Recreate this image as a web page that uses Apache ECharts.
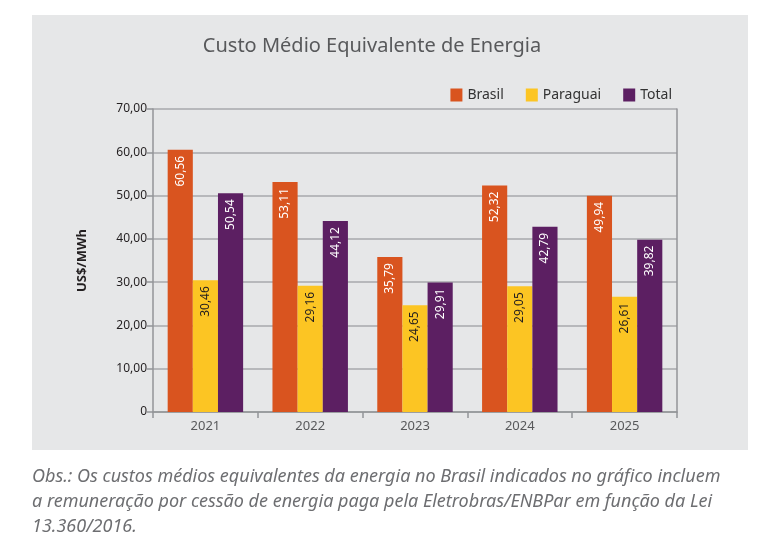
<!DOCTYPE html>
<html>
<head>
<meta charset="utf-8">
<script src="https://cdn.jsdelivr.net/npm/echarts@6/dist/echarts.min.js"></script>
<style>
  html, body { margin: 0; padding: 0; background: #fff; }
  #chart { width: 770px; height: 549px; }
</style>
</head>
<body>
<div id="chart"></div>
<script>
const anos = ['2021', '2022', '2023', '2024', '2025'];
const brasil = [60.56, 53.11, 35.79, 52.32, 49.94];
const paraguai = [30.46, 29.16, 24.65, 29.05, 26.61];
const total = [50.54, 44.12, 29.91, 42.79, 39.82];

const fonte = '"Noto Sans", sans-serif';
const fmt = v => v.toFixed(2).replace('.', ',');

// rótulo vertical dentro da barra, junto ao topo
const rotulo = (cor) => ({
  show: true,
  position: 'insideTop',
  rotate: 90,
  align: 'right',
  verticalAlign: 'middle',
  distance: 6,
  color: cor,
  fontFamily: fonte,
  fontSize: 12,
  formatter: p => fmt(p.value)
});

const chart = echarts.init(document.getElementById('chart'));

chart.setOption({
  animation: false,
  textStyle: { fontFamily: fonte },
  graphic: [
    {
      type: 'rect',
      z: -10,
      shape: { x: 32, y: 15, width: 716, height: 435 },
      style: { fill: '#e6e7e8' }
    },
    {
      type: 'text',
      left: 32,
      top: 464,
      style: {
        text: 'Obs.: Os custos médios equivalentes da energia no Brasil indicados no gráfico incluem\n' +
              'a remuneração por cessão de energia paga pela Eletrobras/ENBPar em função da Lei\n' +
              '13.360/2016.',
        font: 'italic 18px "Noto Sans", sans-serif',
        fill: '#6d6e71',
        lineHeight: 25
      }
    }
  ],
  title: {
    text: 'Custo Médio Equivalente de Energia',
    left: 367,
    textAlign: 'center',
    top: 31,
    textStyle: { fontSize: 20, fontWeight: 'normal', color: '#58595b', fontFamily: fonte }
  },
  legend: {
    right: 93,
    top: 83,
    itemWidth: 12,
    itemHeight: 13,
    itemGap: 22,
    icon: 'rect',
    textStyle: { fontSize: 14, color: '#333', fontFamily: fonte }
  },
  grid: { left: 153, right: 93, top: 109, bottom: 137 },
  xAxis: {
    type: 'category',
    data: anos,
    axisLine: { lineStyle: { color: '#939598', width: 1.5 } },
    axisTick: { show: true, length: 6, lineStyle: { color: '#939598', width: 1.5 } },
    axisLabel: { color: '#58595b', fontSize: 13, margin: 8 }
  },
  yAxis: [
    {
      type: 'value',
      min: 0,
      max: 70,
      interval: 10,
      name: 'US$/MWh',
      nameLocation: 'middle',
      nameGap: 64,
      nameTextStyle: { fontWeight: 'bold', fontSize: 13, color: '#231f20' },
      axisLine: { show: true, lineStyle: { color: '#939598', width: 1.5 } },
      axisTick: { show: true, length: 6, lineStyle: { color: '#939598', width: 1.5 } },
      axisLabel: {
        color: '#231f20',
        fontSize: 12,
        margin: 6,
        formatter: v => v === 0 ? '0' : fmt(v)
      },
      splitLine: { lineStyle: { color: '#a7a9ac', width: 1.5 } }
    },
    {
      type: 'value',
      position: 'right',
      min: 0,
      max: 70,
      interval: 10,
      axisLine: { show: true, lineStyle: { color: '#939598', width: 1.5 } },
      axisTick: { show: false },
      axisLabel: { show: false },
      splitLine: { show: false }
    }
  ],
  series: [
    {
      name: 'Brasil',
      type: 'bar',
      data: brasil,
      barGap: '0%',
      barCategoryGap: '28%',
      itemStyle: { color: '#d9541f' },
      label: rotulo('#fff')
    },
    {
      name: 'Paraguai',
      type: 'bar',
      data: paraguai,
      itemStyle: { color: '#fcc523' },
      label: rotulo('#231f20')
    },
    {
      name: 'Total',
      type: 'bar',
      data: total,
      itemStyle: { color: '#5c1f62' },
      label: rotulo('#fff')
    }
  ]
});
</script>
</body>
</html>
